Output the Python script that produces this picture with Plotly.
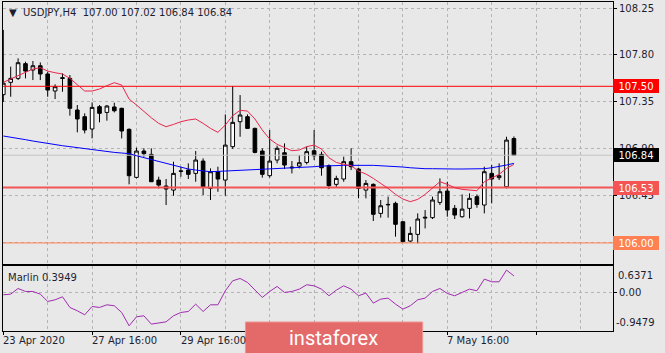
import plotly.graph_objects as go

# ---------------- data ----------------
idx = list(range(70))
opens = [107.42, 107.538, 107.576, 107.717, 107.656, 107.697, 107.618, 107.455, 107.583, 107.576,
         107.273, 107.209, 107.091, 107.305, 107.25, 107.302, 107.289, 107.088, 106.628, 106.88,
         106.848, 106.602, 106.545, 106.506, 106.690, 106.698, 106.666, 106.784, 106.522, 106.682,
         106.602, 106.922, 107.161, 107.209, 107.097, 106.88, 106.644, 106.794, 106.864, 106.727,
         106.736, 106.771, 106.883, 106.848, 106.74, 106.561, 106.612, 106.778, 106.708, 106.506,
         106.561, 106.283, 106.369, 106.379, 106.203, 106.018, 106.082, 106.238, 106.242, 106.388,
         106.497, 106.331, 106.251, 106.331, 106.443, 106.363, 106.666, 106.625, 106.538, 107.00]
highs = [108.04, 107.688, 107.768, 107.736, 107.742, 107.729, 107.64, 107.519, 107.624, 107.608,
         107.321, 107.241, 107.346, 107.321, 107.321, 107.343, 107.295, 107.097, 106.912, 106.906,
         106.906, 106.634, 106.612, 106.778, 106.73, 106.762, 106.88, 106.81, 106.714, 106.73,
         107.231, 107.503, 107.416, 107.231, 107.104, 106.906, 107.081, 106.931, 106.953, 106.784,
         106.842, 106.922, 107.081, 106.874, 106.752, 106.644, 106.826, 106.906, 106.72, 106.602,
         106.57, 106.411, 106.443, 106.395, 106.21, 106.155, 106.283, 106.315, 106.443, 106.618,
         106.586, 106.363, 106.465, 106.475, 106.465, 106.73, 106.746, 106.762, 107.017, 107.02]
lows = [107.35, 107.40, 107.56, 107.576, 107.56, 107.56, 107.40, 107.378, 107.448, 107.219,
        107.059, 107.049, 107.001, 107.155, 107.171, 107.25, 107.001, 106.561, 106.618, 106.826,
        106.586, 106.522, 106.363, 106.452, 106.634, 106.612, 106.586, 106.459, 106.411, 106.49,
        106.452, 106.90, 107.017, 107.091, 106.858, 106.625, 106.625, 106.762, 106.708, 106.666,
        106.714, 106.752, 106.794, 106.644, 106.516, 106.529, 106.586, 106.698, 106.427, 106.427,
        106.21, 106.242, 106.242, 106.06, 106.005, 106.005, 105.996, 106.139, 106.229, 106.363,
        106.251, 106.229, 106.242, 106.235, 106.337, 106.283, 106.379, 106.602, 106.522, 106.84]
closes = [107.53, 107.576, 107.726, 107.646, 107.697, 107.618, 107.464, 107.496, 107.576, 107.289,
          107.187, 107.081, 107.298, 107.241, 107.311, 107.266, 107.072, 106.644, 106.88, 106.855,
          106.586, 106.554, 106.516, 106.666, 106.686, 106.657, 106.794, 106.538, 106.682, 106.612,
          106.937, 107.155, 107.225, 107.097, 106.867, 106.657, 106.784, 106.906, 106.746, 106.72,
          106.768, 106.874, 106.835, 106.72, 106.548, 106.618, 106.778, 106.73, 106.522, 106.57,
          106.274, 106.356, 106.366, 106.178, 106.012, 106.091, 106.229, 106.245, 106.411, 106.49,
          106.315, 106.267, 106.324, 106.427, 106.369, 106.682, 106.612, 106.644, 106.985, 106.84]
ma_red = [107.538, 107.57, 107.608, 107.64, 107.666, 107.678, 107.646, 107.63, 107.618, 107.576,
          107.512, 107.455, 107.455, 107.474, 107.506, 107.535, 107.512, 107.378, 107.321, 107.257,
          107.199, 107.145, 107.113, 107.135, 107.161, 107.177, 107.187, 107.145, 107.097, 107.059,
          107.129, 107.219, 107.27, 107.263, 107.187, 107.081, 106.995, 106.944, 106.912, 106.883,
          106.89, 106.922, 106.937, 106.899, 106.816, 106.771, 106.752, 106.74, 106.688, 106.66,
          106.618, 106.57, 106.522, 106.465, 106.42, 106.395, 106.417, 106.465, 106.529, 106.586,
          106.561, 106.529, 106.513, 106.506, 106.5, 106.586, 106.625, 106.657, 106.714, 106.752]
ma_blue = [107.024, 107.014, 107.001, 106.989, 106.976, 106.963, 106.953, 106.944, 106.931, 106.922,
           106.912, 106.902, 106.893, 106.883, 106.874, 106.867, 106.861, 106.855, 106.835, 106.816,
           106.797, 106.778, 106.759, 106.74, 106.72, 106.708, 106.698, 106.688, 106.682, 106.685,
           106.688, 106.692, 106.698, 106.701, 106.704, 106.708, 106.711, 106.714, 106.717, 106.72,
           106.724, 106.727, 106.73, 106.736, 106.74, 106.743, 106.743, 106.743, 106.746, 106.743,
           106.743, 106.74, 106.736, 106.73, 106.727, 106.72, 106.714, 106.711, 106.711, 106.708,
           106.708, 106.708, 106.708, 106.708, 106.708, 106.711, 106.72, 106.73, 106.746, 106.762]
marlin = [-0.065, -0.049, 0.089, 0.016, 0.016, -0.049, -0.228, -0.187, -0.114, -0.374,
          -0.455, -0.553, -0.35, -0.374, -0.309, -0.333, -0.496, -0.821, -0.602, -0.577,
          -0.78, -0.756, -0.724, -0.577, -0.496, -0.472, -0.293, -0.472, -0.309, -0.309,
          0.033, 0.276, 0.333, 0.236, 0.049, -0.13, 0.016, 0.138, -0.008, 0.016,
          0.073, 0.179, 0.154, 0.073, -0.089, 0.049, 0.154, 0.073, -0.089, -0.024,
          -0.268, -0.171, -0.146, -0.293, -0.415, -0.333, -0.187, -0.146, 0.016, 0.089,
          -0.033, -0.089, -0.008, 0.073, 0.033, 0.317, 0.252, 0.252, 0.537, 0.3949]
# date labels that are visible in the reference (the others sit under the watermark)
x_label_pos = [0, 12, 24, 60]
x_labels = ["23 Apr 2020", "27 Apr 16:00", "29 Apr 16:00", "7 May 16:00"]
levels = [107.50, 106.53, 106.00]
level_colors = ["#ff0000", "#f45454", "#ff8052"]
level_widths = [1, 2, 1]
last_price = closes[-1]
marlin_range = [-0.9479, 0.6371]

# ---------------- styling ----------------
BG = "#e8e8e8"
GRID = "#b4b4b4"
TXT = "#1e1e30"
FONT = "DejaVu Sans"

fig = go.Figure()
# horizontal level lines (drawn first so candles sit on top)
fig.add_trace(go.Scatter(x=[idx[0] - 5, idx[-1] + 20], y=[last_price, last_price], mode="lines",
                         line=dict(color="#c4c4c4", width=1), xaxis="x", yaxis="y",
                         showlegend=False, hoverinfo="skip"))
for lv, col, w in zip(levels, level_colors, level_widths):
    fig.add_trace(go.Scatter(x=[idx[0] - 5, idx[-1] + 20], y=[lv, lv], mode="lines",
                             line=dict(color=col, width=w), xaxis="x", yaxis="y",
                             showlegend=False, hoverinfo="skip"))
fig.add_trace(go.Candlestick(
    x=idx, open=opens, high=highs, low=lows, close=closes,
    increasing=dict(line=dict(color="black", width=1), fillcolor="white"),
    decreasing=dict(line=dict(color="black", width=1), fillcolor="black"),
    whiskerwidth=0, xaxis="x", yaxis="y", showlegend=False, hoverinfo="skip"))
fig.add_trace(go.Scatter(x=idx, y=ma_blue, mode="lines", line=dict(color="#0000ff", width=1),
                         xaxis="x", yaxis="y", showlegend=False, hoverinfo="skip"))
fig.add_trace(go.Scatter(x=idx, y=ma_red, mode="lines", line=dict(color="#e8264c", width=1),
                         xaxis="x", yaxis="y", showlegend=False, hoverinfo="skip"))
fig.add_trace(go.Scatter(x=idx, y=marlin, mode="lines", line=dict(color="#a02cb0", width=1),
                         xaxis="x2", yaxis="y2", showlegend=False, hoverinfo="skip"))

shapes = [dict(type="rect", xref="paper", yref="paper", x0=0.3974, x1=0.688, y0=-0.075, y1=0.0274,
               fillcolor="rgb(228,106,106)", line=dict(color="rgb(238,150,150)", width=1), layer="above")]

annotations = []
annotations.append(dict(text="\u25bc\u00a0\u00a0USDJPY,H4\u00a0\u00a0107.00 107.02 106.84 106.84", xref="paper", yref="paper",
                        x=0.006, y=0.9696, xanchor="left", yanchor="middle", showarrow=False,
                        font=dict(family=FONT, size=10, color=TXT)))
annotations.append(dict(text="Marlin %.4f" % marlin[-1], xref="paper", yref="paper",
                        x=0.005, y=0.164, xanchor="left", yanchor="middle", showarrow=False,
                        font=dict(family=FONT, size=10, color=TXT)))
for pos, lab in zip(x_label_pos, x_labels):
    annotations.append(dict(text=lab, xref="x2", yref="paper", x=pos, y=-0.0289, xanchor="left",
                            yanchor="middle", xshift=-2, showarrow=False,
                            font=dict(family=FONT, size=10, color=TXT)))
annotations.append(dict(text="%.4f" % marlin_range[1], xref="paper", yref="y2", x=1, y=marlin_range[1],
                        xanchor="left", yanchor="top", xshift=3, yshift=-2, showarrow=False,
                        font=dict(family=FONT, size=10, color=TXT)))
annotations.append(dict(text="%.4f" % marlin_range[0], xref="paper", yref="y2", x=1, y=marlin_range[0],
                        xanchor="left", yanchor="bottom", xshift=1, yshift=1, showarrow=False,
                        font=dict(family=FONT, size=10, color=TXT)))
for lv, col in list(zip(levels, level_colors)) + [(last_price, "#000000")]:
    annotations.append(dict(text="%.2f" % lv, xref="paper", yref="y", x=1, y=lv, xanchor="left",
                            yanchor="middle", xshift=0, showarrow=False, bgcolor=col, width=44, height=12,
                            borderpad=0, borderwidth=1, bordercolor=col,
                            font=dict(family=FONT, size=10, color="white")))
annotations.append(dict(text="instaforex", xref="paper", yref="paper", x=0.542, y=-0.02,
                        xanchor="center", yanchor="middle", showarrow=False,
                        font=dict(family="Roboto", size=20, color="white")))

xr = [-0.04, 82.39]
axis_common = dict(showline=True, mirror=True, linecolor="black", linewidth=1, zeroline=False,
                   gridcolor=GRID, griddash="3px,3px", gridwidth=1)

fig.update_layout(
    width=665, height=353, autosize=False,
    margin=dict(l=3, r=52, t=2, b=22),
    paper_bgcolor=BG, plot_bgcolor=BG,
    showlegend=False,
    xaxis=dict(domain=[0, 1], anchor="y", range=xr, tick0=0, dtick=6, showticklabels=False,
               ticks="", showgrid=True, rangeslider=dict(visible=False), **axis_common),
    yaxis=dict(domain=[0.2036, 1], anchor="x", side="right", range=[105.798, 108.3075],
               tick0=106.0, dtick=0.45, tickformat=".2f", ticks="outside", ticklen=3, tickcolor="black",
               showgrid=True, tickfont=dict(family=FONT, size=10, color=TXT), **axis_common),
    xaxis2=dict(domain=[0, 1], anchor="y2", range=xr, tick0=0, dtick=12, showticklabels=False,
                ticks="outside", ticklen=3, tickcolor="black", showgrid=True,
                minor=dict(tick0=0, dtick=6, showgrid=True, gridcolor=GRID, griddash="3px,3px", ticklen=0),
                **axis_common),
    yaxis2=dict(domain=[0, 0.1976], anchor="x2", side="right", range=marlin_range,
                tickvals=[0], ticktext=["0.00"], ticks="outside", ticklen=3, tickcolor="black",
                showgrid=True, tickfont=dict(family=FONT, size=10, color=TXT), **axis_common),
    shapes=shapes,
    annotations=annotations,
)

fig.write_html("out.html")
